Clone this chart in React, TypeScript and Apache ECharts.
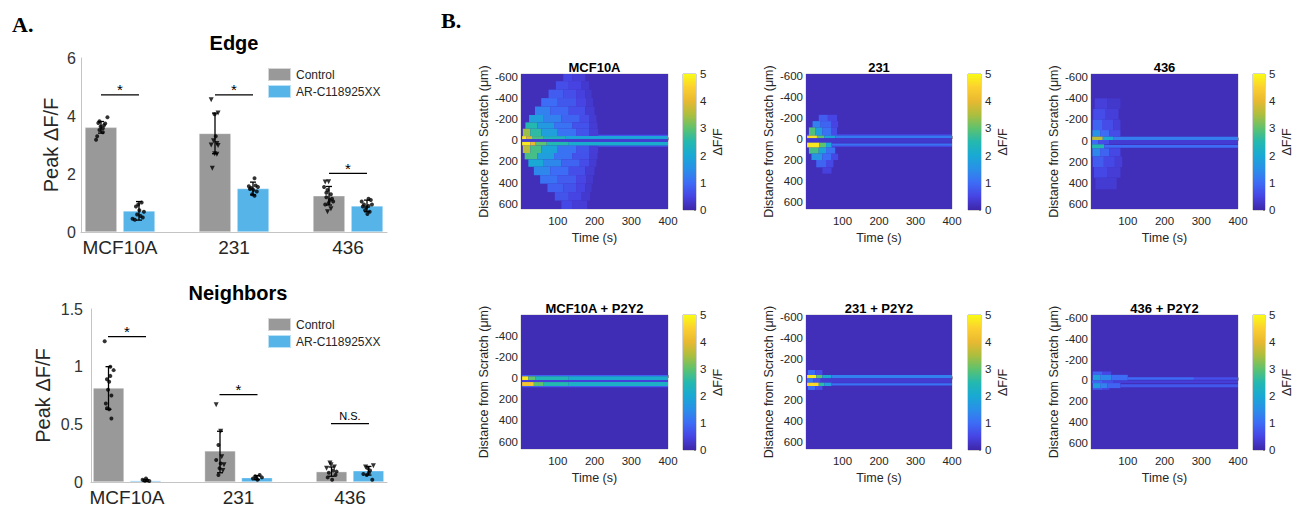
import React, { useEffect, useRef } from "react";
import * as echarts from "echarts";

// ---------- Panel A data ----------
const categories = ["MCF10A", "231", "436"];
const seriesNames = ["Control", "AR-C118925XX"];

const edgeControl = [3.61, 3.4, 1.25];
const edgeAR = [0.73, 1.5, 0.9];
const edgeControlErr = [[1, 3.41, 3.81], [2, 2.7, 4.1], [3, 0.93, 1.57]];
const edgeARErr = [[1, 0.41, 1.05], [2, 1.28, 1.72], [3, 0.7, 1.1]];
const edgeDots = [
  [0.79, 3.18], [0.8, 3.3], [0.82, 3.52], [0.83, 3.64], [0.85, 3.58], [0.87, 3.74], [0.81, 3.76], [0.89, 3.96], [0.82, 3.82], [0.85, 3.44], [0.86, 3.68],
  [1.11, 0.46], [1.13, 0.42], [1.15, 0.6], [1.17, 0.75], [1.18, 0.55], [1.2, 0.5], [1.16, 0.95], [1.19, 1.02], [1.14, 0.88], [1.21, 0.7],
  [1.83, 4.06], [1.84, 3.3],
  [2.13, 1.58], [2.15, 1.52], [2.17, 1.45], [2.19, 1.6], [2.2, 1.4], [2.16, 1.3], [2.18, 1.25], [2.14, 1.48], [2.18, 1.85], [2.21, 1.55],
  [2.79, 1.55], [2.82, 1.45], [2.85, 1.3], [2.81, 1.2], [2.84, 1.1], [2.86, 1.15], [2.83, 1.0], [2.8, 0.95], [2.87, 1.05], [2.81, 1.35],
  [3.12, 1.05], [3.14, 0.95], [3.16, 0.85], [3.18, 0.9], [3.2, 1.1], [3.15, 0.75], [3.19, 0.7], [3.17, 0.62], [3.13, 0.88], [3.21, 0.95], [3.18, 1.15],
];
const edgeTris = [
  [1.8, 4.56], [1.82, 3.15], [1.85, 3.05], [1.8, 3.0], [1.86, 2.98], [1.83, 2.7], [1.85, 2.68], [1.81, 2.2], [1.86, 4.1],
  [2.8, 1.72], [2.83, 1.73], [2.85, 0.8], [2.82, 0.7],
];
const edgeSig = [[1, 4.73], [2, 4.73], [3, 2.02]];
const edgeSigLabels = ["*", "*", "*"];

const nbControl = [0.815, 0.27, 0.09];
const nbAR = [0.012, 0.038, 0.098];
const nbControlErr = [[1, 0.63, 1.0], [2, 0.08, 0.44], [3, 0.05, 0.13]];
const nbARErr = [[1, 0.005, 0.02], [2, 0.02, 0.055], [3, 0.06, 0.135]];
const nbDots = [
  [0.8, 1.22], [0.85, 1.0], [0.88, 0.97], [0.82, 0.89], [0.84, 0.87], [0.83, 0.8], [0.86, 0.75], [0.81, 0.68], [0.84, 0.63], [0.82, 0.64], [0.86, 0.55], [0.85, 0.92],
  [1.14, 0.02], [1.16, 0.01], [1.18, 0.015], [1.2, 0.008], [1.17, 0.03],
  [1.82, 0.32], [1.8, 0.19], [1.84, 0.16], [1.83, 0.12], [1.82, 0.06],
  [2.13, 0.03], [2.15, 0.05], [2.17, 0.02], [2.19, 0.06], [2.21, 0.04], [2.16, 0.035],
  [2.81, 0.08], [2.85, 0.1], [2.87, 0.06], [2.8, 0.04], [2.84, 0.02], [2.88, 0.09],
  [3.12, 0.07], [3.16, 0.12], [3.18, 0.1], [3.2, 0.02], [3.17, 0.08], [3.15, 0.06],
];
const nbTris = [
  [1.8, 0.67], [1.84, 0.44], [1.87, 0.15], [1.86, 0.1], [1.85, 0.22],
  [2.79, 0.12], [2.83, 0.15], [2.86, 0.13], [2.82, 0.165],
  [3.14, 0.13], [3.21, 0.14],
];
const nbSig = [[1, 1.26], [2, 0.757], [3, 0.506]];
const nbSigLabels = ["*", "*", "N.S."];

// ---------- Panel B data ----------
// each row: [distance from, distance to, start time, [[end time, ΔF/F], ...]]
const hmTitles = ["MCF10A", "231", "436", "MCF10A + P2Y2", "231 + P2Y2", "436 + P2Y2"];
const hmRanges = [[-628, 650], [-619, 667], [-630, 646], [-595, 670], [-618, 669], [-627, 656]];
const hmTicksFull = [-600, -400, -200, 0, 200, 400, 600];
const hmTicksShort = [-400, -200, 0, 200, 400, 600];
const timeTicks = [100, 200, 300, 400];
const cbTicks = [0, 1, 2, 3, 4, 5];

const hmMCF10A = [
  [-700, 700, 0, [[400, 0.15]]],
  [-640, -560, 115, [[140, 0.5], [175, 0.38]]],
  [-560, -480, 95, [[130, 0.62], [165, 0.48], [185, 0.32]]],
  [-480, -400, 75, [[115, 0.8], [150, 0.62], [175, 0.45], [192, 0.3]]],
  [-400, -320, 55, [[100, 1.0], [150, 0.75], [178, 0.5], [196, 0.32]]],
  [-320, -240, 38, [[80, 1.3], [130, 0.95], [175, 0.62], [200, 0.35]]],
  [-240, -170, 22, [[60, 1.8], [110, 1.3], [160, 0.9], [185, 0.6], [205, 0.35]]],
  [-170, -110, 12, [[45, 2.5], [90, 1.7], [140, 1.1], [185, 0.68], [208, 0.36]]],
  [-110, -40, 5, [[25, 3.4], [55, 2.6], [100, 1.8], [150, 1.1], [185, 0.7], [210, 0.38]]],
  [48, 120, 5, [[25, 3.6], [55, 2.8], [100, 1.9], [150, 1.1], [185, 0.7], [210, 0.38]]],
  [120, 180, 10, [[45, 2.8], [90, 1.8], [140, 1.1], [185, 0.68], [208, 0.36]]],
  [180, 250, 20, [[60, 2.0], [110, 1.4], [160, 0.9], [185, 0.6], [205, 0.35]]],
  [250, 330, 35, [[80, 1.4], [130, 1.0], [175, 0.62], [200, 0.35]]],
  [330, 410, 52, [[100, 1.1], [150, 0.8], [178, 0.52], [196, 0.32]]],
  [410, 490, 72, [[115, 0.85], [150, 0.68], [175, 0.48], [192, 0.3]]],
  [490, 570, 92, [[130, 0.7], [165, 0.5], [188, 0.32]]],
  [570, 650, 110, [[140, 0.55], [180, 0.38]]],
  [-52, -40, 210, [[400, 0.7]]],
  [48, 60, 210, [[400, 0.7]]],
  [-40, -10, 3, [[15, 4.8], [30, 3.8], [60, 2.8], [120, 2.3], [400, 1.9]]],
  [-10, 15, 3, [[400, 0.35]]],
  [15, 48, 3, [[25, 4.8], [40, 4.0], [70, 3.0], [130, 2.5], [400, 2.1]]],
];
const hm231 = [
  [-700, 700, 0, [[400, 0.15]]],
  [-44, -32, 3, [[400, 0.55]]],
  [64, 76, 3, [[400, 0.5]]],
  [-230, -170, 35, [[60, 0.8], [85, 0.5]]],
  [-170, -110, 18, [[40, 1.3], [70, 0.9], [88, 0.5]]],
  [-110, -32, 8, [[25, 2.9], [45, 1.8], [70, 1.1], [85, 0.6]]],
  [80, 140, 8, [[35, 2.8], [55, 1.9], [80, 1.1]]],
  [140, 200, 15, [[45, 1.6], [70, 1.0], [88, 0.55]]],
  [200, 270, 28, [[55, 0.9], [75, 0.55]]],
  [270, 330, 45, [[70, 0.45]]],
  [-32, -6, 3, [[30, 4.7], [50, 3.0], [80, 1.9], [400, 1.2]]],
  [-6, 35, 3, [[400, 0.3]]],
  [35, 80, 3, [[37, 4.8], [55, 3.0], [70, 2.0]]],
  [42, 64, 70, [[400, 1.1]]],
];
const hm436 = [
  [-700, 700, 0, [[400, 0.15]]],
  [-400, -300, 10, [[45, 0.42], [80, 0.3]]],
  [-300, -200, 6, [[40, 0.6], [75, 0.4]]],
  [-200, -100, 5, [[30, 0.9], [60, 0.6], [80, 0.4]]],
  [-100, -38, 4, [[25, 1.6], [50, 1.0], [80, 0.6]]],
  [72, 150, 4, [[25, 1.4], [50, 0.9], [80, 0.55]]],
  [150, 250, 5, [[35, 0.8], [65, 0.55], [85, 0.38]]],
  [250, 350, 8, [[45, 0.55], [80, 0.38]]],
  [350, 460, 12, [[70, 0.35]]],
  [-38, -6, 3, [[32, 3.6], [60, 2.0], [400, 1.25]]],
  [-6, 35, 3, [[20, 1.0], [50, 0.6], [400, 0.35]]],
  [35, 72, 3, [[36, 2.5]]],
  [40, 68, 36, [[400, 1.0]]],
];
const hmMCF10AP2Y2 = [
  [-700, 700, 0, [[400, 0.12]]],
  [-28, -16, 3, [[400, 0.9]]],
  [75, 88, 3, [[400, 0.8]]],
  [-16, 19, 3, [[20, 4.8], [40, 3.0], [130, 2.4], [400, 2.1]]],
  [19, 38, 3, [[400, 0.4]]],
  [38, 75, 3, [[35, 4.3], [60, 3.0], [130, 2.5], [400, 2.2]]],
];
const hm231P2Y2 = [
  [-700, 700, 0, [[400, 0.15]]],
  [-90, -42, 5, [[25, 1.0], [45, 0.6]]],
  [64, 102, 5, [[25, 1.0], [45, 0.6]]],
  [-42, -10, 3, [[28, 4.8], [45, 3.0], [70, 2.0], [400, 1.3]]],
  [-10, 32, 3, [[20, 1.2], [40, 0.7], [400, 0.35]]],
  [32, 64, 3, [[35, 4.6], [50, 2.6], [70, 1.8]]],
  [38, 60, 70, [[400, 1.1]]],
];
const hm436P2Y2 = [
  [-700, 700, 0, [[400, 0.15]]],
  [-86, -54, 5, [[30, 0.9], [55, 0.55]]],
  [73, 89, 5, [[30, 0.8], [50, 0.5]]],
  [-54, 0, 5, [[25, 1.8], [55, 1.4], [100, 1.0]]],
  [-32, -6, 100, [[280, 1.0], [400, 0.65]]],
  [0, 25, 3, [[30, 0.9], [60, 0.6], [400, 0.4]]],
  [25, 73, 5, [[25, 1.7], [45, 1.3], [80, 0.9]]],
  [35, 64, 80, [[400, 0.75]]],
];
const hmData = [hmMCF10A, hm231, hm436, hmMCF10AP2Y2, hm231P2Y2, hm436P2Y2];

const parula = [
  "#3e26a8", "#4744e4", "#3d6cf6", "#2a8fe8", "#19a9d4", "#23b8b0",
  "#5ec26e", "#acbe3e", "#e8b931", "#fccf30", "#f9fb15",
];

const SANS = "'Liberation Sans', Arial, Helvetica, sans-serif";
const SERIF = "'Liberation Serif', 'Times New Roman', serif";
const TXT = "#262626";

// rows -> cells [t0, t1, d0, d1, value]
function rowsToCells(rows: any[]) {
  const cells: number[][] = [];
  rows.forEach(([d0, d1, tStart, segs]) => {
    let t = tStart;
    segs.forEach(([tEnd, v]: number[]) => {
      cells.push([t, tEnd, d0, d1, v]);
      t = tEnd;
    });
  });
  return cells;
}

function textEl(text: string, x: number, y: number, size: number, bold: boolean, family = SANS, align = "center") {
  return {
    type: "text",
    x,
    y,
    silent: true,
    style: {
      text,
      fill: "#000",
      font: `${bold ? "bold " : ""}${size}px ${family}`,
      align,
      textAlign: align,
      verticalAlign: "middle",
      textVerticalAlign: "middle",
    },
  };
}

function buildOption() {
  const barPanels = [
    {
      grid: { left: 81, top: 58, width: 306, height: 174 },
      ctrl: edgeControl, ar: edgeAR, ctrlErr: edgeControlErr, arErr: edgeARErr,
      dots: edgeDots, tris: edgeTris, sig: edgeSig, sigLabels: edgeSigLabels,
      yMax: 6, yInt: 2, xMin: 0.658, xMax: 3.342, barW: 32, off: 19, nameGap: 20, labelMargin: 5,
    },
    {
      grid: { left: 91, top: 309, width: 296, height: 173 },
      ctrl: nbControl, ar: nbAR, ctrlErr: nbControlErr, arErr: nbARErr,
      dots: nbDots, tris: nbTris, sig: nbSig, sigLabels: nbSigLabels,
      yMax: 1.5, yInt: 0.5, xMin: 0.677, xMax: 3.332, barW: 31, off: 18.5, nameGap: 38, labelMargin: 8,
    },
  ];
  const hmGrids = [
    { left: 521, top: 74, width: 147, height: 135 },
    { left: 806, top: 74, width: 146, height: 135 },
    { left: 1091, top: 74, width: 147, height: 135 },
    { left: 521, top: 315, width: 147, height: 134 },
    { left: 806, top: 315, width: 146, height: 134 },
    { left: 1091, top: 315, width: 147, height: 134 },
  ];
  const cbGrids = hmGrids.map((g) => ({ left: g.left + 162, top: g.top, width: 13, height: g.height + 1 }));

  const grid: any[] = [];
  const xAxis: any[] = [];
  const yAxis: any[] = [];
  const series: any[] = [];
  const graphic: any[] = [];
  const hmSeriesIdx: number[] = [];

  graphic.push(textEl("A.", 12, 24, 22, true, SERIF, "left"));
  graphic.push(textEl("B.", 441, 20, 22, true, SERIF, "left"));
  graphic.push(textEl("Edge", 234, 43, 20, true));
  graphic.push(textEl("Neighbors", 238, 293, 20, true));

  barPanels.forEach((p, k) => {
    grid.push({ ...p.grid, show: false });
    xAxis.push({
      type: "value", gridIndex: k, min: p.xMin, max: p.xMax,
      axisLine: { show: true, lineStyle: { color: "#c4c4c4", width: 1 } },
      axisTick: { show: false, customValues: [1, 2, 3] },
      splitLine: { show: false },
      axisLabel: {
        customValues: [1, 2, 3],
        formatter: (v: number) => categories[Math.round(v) - 1] ?? "",
        fontSize: 19, color: TXT, fontFamily: SANS, margin: 6,
      },
    });
    yAxis.push({
      type: "value", gridIndex: k, min: 0, max: p.yMax, interval: p.yInt,
      name: "Peak ΔF/F", nameLocation: "middle", nameGap: p.nameGap,
      nameTextStyle: { fontSize: 20, color: TXT, fontFamily: SANS },
      axisLine: { show: true, lineStyle: { color: "#c4c4c4", width: 1 } },
      axisTick: { show: false },
      splitLine: { show: false },
      axisLabel: { fontSize: 16, color: "#333", fontFamily: SANS, margin: p.labelMargin },
    });
    const mkBar = (name: string, vals: number[], color: string) => ({
      type: "bar", name, xAxisIndex: k, yAxisIndex: k,
      data: vals.map((v, i) => [i + 1, v]),
      barWidth: p.barW, barGap: "19%",
      itemStyle: { color, borderColor: "rgba(255,255,255,0.6)", borderWidth: 0.6 },
      z: 2, silent: true,
    });
    series.push(mkBar(seriesNames[0], p.ctrl, "#999999"));
    series.push(mkBar(seriesNames[1], p.ar, "#56b4e9"));
    const mkErr = (data: number[][], dir: number) => ({
      type: "custom", xAxisIndex: k, yAxisIndex: k, data, z: 3, silent: true,
      encode: { x: 0, y: [1, 2] },
      renderItem: (params: any, api: any) => {
        const a = api.coord([api.value(0), api.value(1)]);
        const b = api.coord([api.value(0), api.value(2)]);
        const x = a[0] + dir * p.off;
        const st = { stroke: "#000", lineWidth: 1.3 };
        return {
          type: "group",
          children: [
            { type: "line", shape: { x1: x, y1: a[1], x2: x, y2: b[1] }, style: st },
            { type: "line", shape: { x1: x - 3, y1: a[1], x2: x + 3, y2: a[1] }, style: st },
            { type: "line", shape: { x1: x - 3, y1: b[1], x2: x + 3, y2: b[1] }, style: st },
          ],
        };
      },
    });
    series.push(mkErr(p.ctrlErr, -1));
    series.push(mkErr(p.arErr, 1));
    series.push({
      type: "scatter", xAxisIndex: k, yAxisIndex: k, data: p.dots, symbol: "circle", symbolSize: 4,
      itemStyle: { color: "#000" }, z: 4, silent: true,
    });
    series.push({
      type: "scatter", xAxisIndex: k, yAxisIndex: k, data: p.tris, symbol: "triangle", symbolRotate: 180, symbolSize: 5,
      itemStyle: { color: "#000" }, z: 4, silent: true,
    });
    series.push({
      type: "custom", xAxisIndex: k, yAxisIndex: k, data: p.sig, z: 5, silent: true,
      encode: { x: 0, y: 1 },
      renderItem: (params: any, api: any) => {
        const c = api.coord([api.value(0), api.value(1)]);
        const label = p.sigLabels[params.dataIndex];
        const star = label === "*";
        return {
          type: "group",
          children: [
            { type: "line", shape: { x1: c[0] - 19, y1: c[1], x2: c[0] + 19, y2: c[1] }, style: { stroke: "#000", lineWidth: 1.3 } },
            {
              type: "text", x: c[0], y: c[1] - (star ? 5 : 8),
              style: {
                text: label, fill: "#000", font: `${star ? 15 : 11}px ${SANS}`,
                align: "center", textAlign: "center", verticalAlign: "middle", textVerticalAlign: "middle",
              },
            },
          ],
        };
      },
    });
  });

  // heatmaps
  hmGrids.forEach((g, i) => {
    const gi = 2 + i;
    grid.push({ ...g, show: true, borderColor: "#c8c8c8", borderWidth: 1, backgroundColor: "transparent" });
    xAxis.push({
      type: "value", gridIndex: gi, min: 0, max: 400,
      name: "Time (s)", nameLocation: "middle", nameGap: 22,
      nameTextStyle: { fontSize: 12.5, color: TXT, fontFamily: SANS },
      axisLine: { show: false },
      axisTick: { show: true, inside: true, length: 3, customValues: timeTicks, lineStyle: { color: "#9a9a9a" } },
      splitLine: { show: false },
      axisLabel: { customValues: timeTicks, fontSize: 11.5, color: TXT, fontFamily: SANS, margin: 6 },
    });
    const ticks = i === 3 ? hmTicksShort : hmTicksFull;
    yAxis.push({
      type: "value", gridIndex: gi, min: hmRanges[i][0], max: hmRanges[i][1], inverse: true,
      name: "Distance from Scratch (μm)", nameLocation: "middle", nameGap: 31,
      nameTextStyle: { fontSize: 12.5, color: TXT, fontFamily: SANS },
      axisLine: { show: false },
      axisTick: { show: true, inside: true, length: 3, customValues: ticks, lineStyle: { color: "#9a9a9a" } },
      splitLine: { show: false },
      axisLabel: { customValues: ticks, fontSize: 11.5, color: TXT, fontFamily: SANS, margin: 3 },
    });
    hmSeriesIdx.push(series.length);
    series.push({
      type: "custom", xAxisIndex: gi, yAxisIndex: gi, data: rowsToCells(hmData[i]), silent: true, z: 1,
      encode: { x: [0, 1], y: [2, 3] },
      renderItem: (params: any, api: any) => {
        const p0 = api.coord([api.value(0), api.value(2)]);
        const p1 = api.coord([api.value(1), api.value(3)]);
        const cs = params.coordSys;
        const shape = echarts.graphic.clipRectByRect(
          {
            x: Math.min(p0[0], p1[0]), y: Math.min(p0[1], p1[1]),
            width: Math.abs(p1[0] - p0[0]), height: Math.abs(p1[1] - p0[1]),
          },
          { x: cs.x, y: cs.y, width: cs.width, height: cs.height }
        );
        if (!shape) return null;
        return { type: "rect", shape, style: { fill: api.visual("color") } };
      },
    });
    graphic.push(textEl(hmTitles[i], g.left + g.width / 2, g.top - 7, 13, true));
  });

  // colorbars
  const grad = new echarts.graphic.LinearGradient(
    0, 1, 0, 0,
    parula.map((c, j) => ({ offset: j / (parula.length - 1), color: c }))
  );
  cbGrids.forEach((g, i) => {
    const gi = 8 + i;
    grid.push({ ...g, show: true, borderColor: "#a8a8a8", borderWidth: 1, backgroundColor: "transparent" });
    xAxis.push({ type: "category", gridIndex: gi, data: ["ΔF/F"], show: false });
    yAxis.push({
      type: "value", gridIndex: gi, position: "right", min: cbTicks[0], max: cbTicks[cbTicks.length - 1], interval: 1,
      name: "ΔF/F", nameLocation: "middle", nameGap: 15,
      nameTextStyle: { fontSize: 12.5, color: TXT, fontFamily: SANS },
      axisLine: { show: false },
      axisTick: { show: true, inside: true, length: 2, lineStyle: { color: "#8a8a8a" } },
      splitLine: { show: false },
      axisLabel: { fontSize: 11.5, color: TXT, fontFamily: SANS, margin: 4 },
    });
    series.push({
      type: "bar", xAxisIndex: gi, yAxisIndex: gi, data: [cbTicks[cbTicks.length - 1]],
      barWidth: "100%", itemStyle: { color: grad }, silent: true, z: 1,
    });
  });

  const legendBase = {
    orient: "vertical", itemWidth: 23, itemHeight: 13, itemGap: 2, icon: "rect", padding: 0,
    data: seriesNames, selectedMode: false,
    textStyle: { fontSize: 12, color: TXT, fontFamily: SANS },
  };

  return {
    animation: false,
    backgroundColor: "#ffffff",
    grid,
    xAxis,
    yAxis,
    series,
    graphic,
    legend: [
      { ...legendBase, left: 267, top: 67 },
      { ...legendBase, left: 267, top: 317 },
    ],
    visualMap: [
      {
        type: "continuous", show: false, min: 0, max: 5, dimension: 4,
        seriesIndex: hmSeriesIdx, inRange: { color: parula },
      },
    ],
  };
}

export default function App() {
  const ref = useRef<HTMLDivElement>(null);
  useEffect(() => {
    document.body.style.margin = "0";
    const chart = echarts.init(ref.current!, null, { renderer: "svg" });
    chart.setOption(buildOption() as any);
    return () => chart.dispose();
  }, []);
  return <div ref={ref} style={{ width: 1294, height: 512 }} />;
}
